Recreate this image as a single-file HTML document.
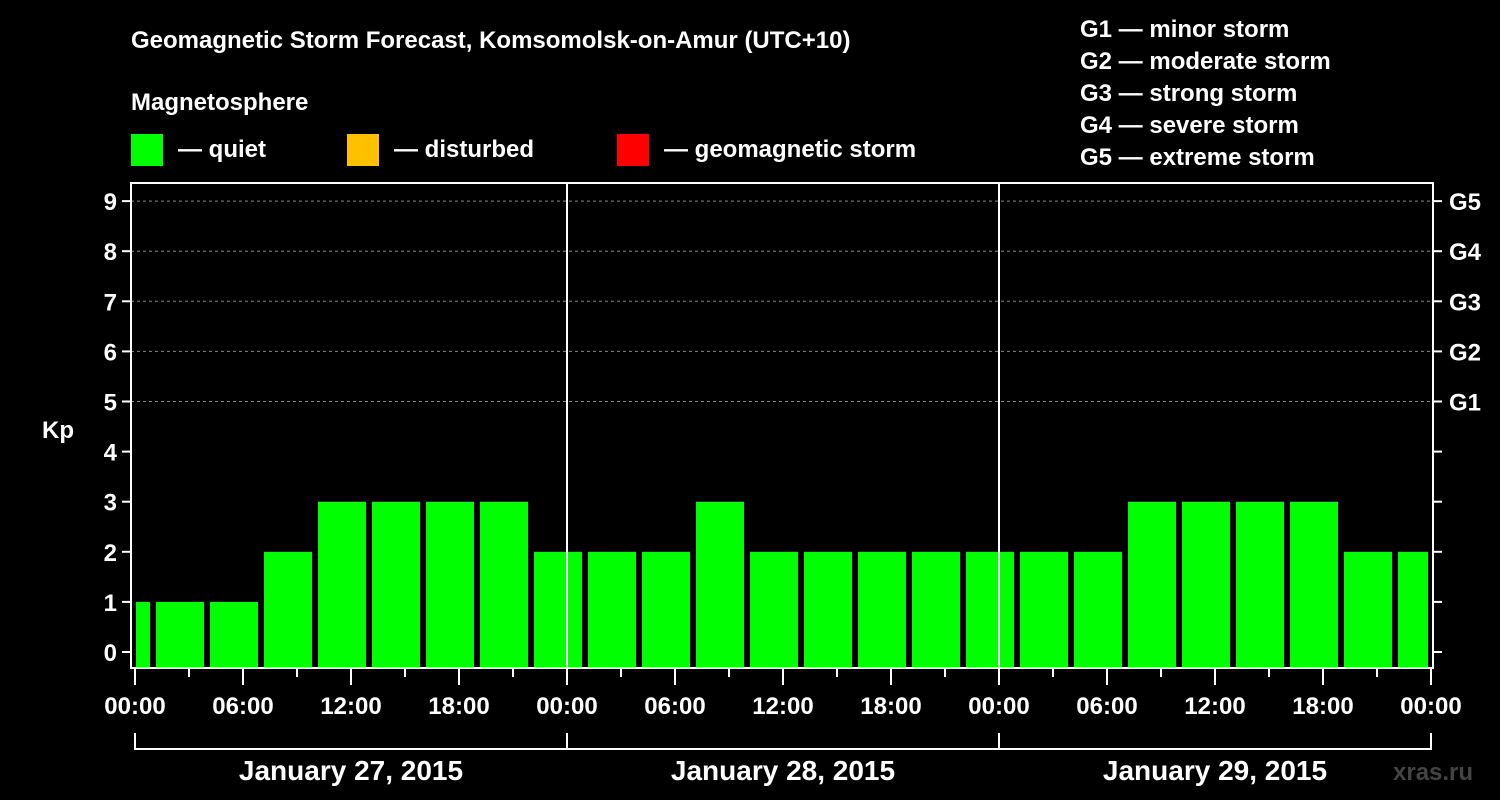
<!DOCTYPE html>
<html><head><meta charset="utf-8"><style>
body{margin:0;background:#000;width:1500px;height:800px;overflow:hidden}
svg{display:block;font-family:"Liberation Sans",Arial,sans-serif;font-weight:bold}
</style></head><body>
<svg id="c" width="1500" height="800">
<rect width="1500" height="800" fill="#000"/>
<text x="131" y="48" fill="#fff" font-size="24">Geomagnetic Storm Forecast, Komsomolsk-on-Amur (UTC+10)</text>
<text x="131" y="110" fill="#fff" font-size="24">Magnetosphere</text>
<g><rect x="131" y="134" width="32" height="32" fill="#00ff00"/><text x="178" y="157" fill="#fff" font-size="24">— quiet</text></g>
<g><rect x="347" y="134" width="32" height="32" fill="#ffc000"/><text x="394" y="157" fill="#fff" font-size="24">— disturbed</text></g>
<g><rect x="617" y="134" width="32" height="32" fill="#ff0000"/><text x="664" y="157" fill="#fff" font-size="24">— geomagnetic storm</text></g>
<g fill="#fff" font-size="24">
<text x="1080" y="37">G1 — minor storm</text>
<text x="1080" y="69">G2 — moderate storm</text>
<text x="1080" y="101">G3 — strong storm</text>
<text x="1080" y="133">G4 — severe storm</text>
<text x="1080" y="165">G5 — extreme storm</text>
</g>
<text x="42" y="438" fill="#fff" font-size="24">Kp</text>
<text x="1393" y="780" fill="#444" font-size="24">xras.ru</text>
<g id="plot"></g>
</svg>
<script>
const kpValues=[1,1,1,2,3,3,3,3,2,2,2,3,2,2,2,2,2,2,2,3,3,3,3,2,2];
const yTicks=[0,1,2,3,4,5,6,7,8,9];
const gLabels=["G1","G2","G3","G4","G5"];
const gLevels=[5,6,7,8,9];
const xLabels=["00:00","06:00","12:00","18:00","00:00","06:00","12:00","18:00","00:00","06:00","12:00","18:00","00:00"];
const dayLabels=["January 27, 2015","January 28, 2015","January 29, 2015"];
const firstIntervalStartHour=-2; // local start of first 3h interval

const NS="http://www.w3.org/2000/svg";
const g=document.getElementById("plot");
const L=131,R=1433,T=183,B=668,X0=135,X1=1431;
const totalH=72;
const x=h=>X0+(X1-X0)*h/totalH;
const y=v=>652-v*50.1;
function el(t,a,p){const e=document.createElementNS(NS,t);for(const k in a)e.setAttribute(k,a[k]);(p||g).appendChild(e);return e;}
// grid
gLevels.forEach(v=>{const e=el("line",{x1:L,x2:R,y1:y(v),y2:y(v),stroke:"#888","stroke-dasharray":"3,3","stroke-width":1});

});
// bars
kpValues.forEach((v,i)=>{
 let s=x(firstIntervalStartHour+i*3)+3,e2=x(firstIntervalStartHour+i*3+3)-3;
 s=Math.max(s,X0+1);e2=Math.min(e2,X1-3);
 const r=el("rect",{x:s,y:y(v),width:e2-s,height:B-1-y(v),fill:v>=5?"#ff0000":v>=4?"#ffc000":"#00ff00"});
 
 
});
// day separators
[1,2].forEach(d=>{const e=el("line",{x1:x(d*24),x2:x(d*24),y1:T,y2:B,stroke:"#fff","stroke-width":2});

});
// frame
const f=el("rect",{x:L,y:T,width:R-L,height:B-T,fill:"none",stroke:"#fff","stroke-width":2});


// y ticks
yTicks.forEach(v=>{
 el("line",{x1:L-9,x2:L,y1:y(v),y2:y(v),stroke:"#fff","stroke-width":2});
 el("line",{x1:R,x2:R+9,y1:y(v),y2:y(v),stroke:"#fff","stroke-width":2});
 const t=el("text",{x:L-14,y:y(v)+9,fill:"#fff","font-size":24,"text-anchor":"end"});t.textContent=v;
 
 
});
gLabels.forEach((s,i)=>{const t=el("text",{x:R+16,y:y(gLevels[i])+9,fill:"#fff","font-size":24});t.textContent=s;

});
// x ticks
for(let h=0;h<=totalH;h+=3){const big=h%6==0;el("line",{x1:x(h),x2:x(h),y1:B,y2:B+(big?17:9),stroke:"#fff","stroke-width":2});}
xLabels.forEach((s,i)=>{const t=el("text",{x:x(i*6),y:714,fill:"#fff","font-size":24,"text-anchor":"middle"});t.textContent=s;

});
// date brackets
el("line",{x1:X0,x2:X1,y1:749,y2:749,stroke:"#fff","stroke-width":2});
[0,1,2,3].forEach(d=>el("line",{x1:x(d*24),x2:x(d*24),y1:733,y2:750,stroke:"#fff","stroke-width":2}));
dayLabels.forEach((s,i)=>{const t=el("text",{x:x(i*24+12),y:780,fill:"#fff","font-size":28,"text-anchor":"middle"});t.textContent=s;

});
</script>
</body></html>
